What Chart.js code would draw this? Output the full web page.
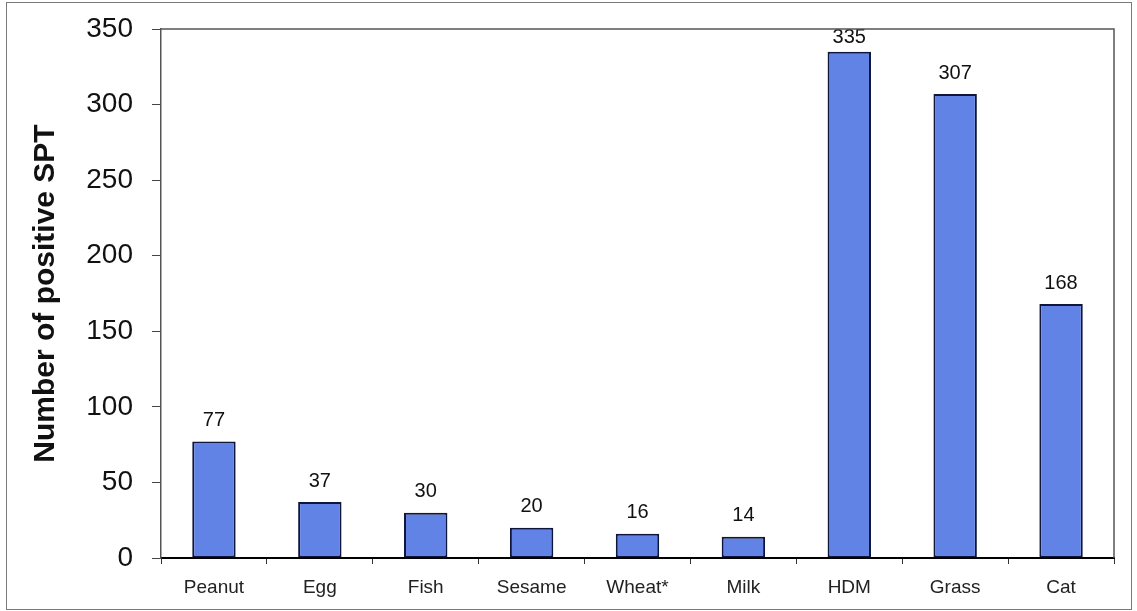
<!DOCTYPE html>
<html>
<head>
<meta charset="utf-8">
<script src="https://cdn.jsdelivr.net/npm/chart.js@4/dist/chart.umd.min.js"></script>
<style>
  body { margin: 0; background: #fff; }
  #moldura { position: absolute; left: 6px; top: 2px; width: 1124px; height: 606px; border: 1.5px solid #7a7a7a; }
  #grafico { position: absolute; left: 0; top: 0; }
</style>
</head>
<body>
<div id="moldura"></div>
<canvas id="grafico" width="1137" height="611"></canvas>
<script>
// Dados do gráfico
var alergenos = ['Peanut', 'Egg', 'Fish', 'Sesame', 'Wheat*', 'Milk', 'HDM', 'Grass', 'Cat'];
var positivos = [77, 37, 30, 20, 16, 14, 335, 307, 168];
var eixoY = { min: 0, max: 350, passo: 50 };

var fonte = "'Liberation Sans', Arial, sans-serif";

// Borda da área do gráfico (topo e direita)
var bordaArea = {
    id: 'bordaArea',
    afterDraw: function (chart) {
        var a = chart.chartArea;
        var c = chart.ctx;
        c.save();
        c.strokeStyle = '#555';
        c.lineWidth = 1.5;
        c.beginPath();
        c.moveTo(a.left, a.top);
        c.lineTo(a.right, a.top);
        c.lineTo(a.right, a.bottom);
        c.stroke();
        c.restore();
    }
};

// Rótulos de valor acima das barras
var rotulosValor = {
    id: 'rotulosValor',
    afterDatasetsDraw: function (chart) {
        var c = chart.ctx;
        var meta = chart.getDatasetMeta(0);
        c.save();
        c.font = '20px ' + fonte;
        c.fillStyle = '#111';
        c.textAlign = 'center';
        c.textBaseline = 'bottom';
        meta.data.forEach(function (barra, i) {
            var y = Math.max(barra.y - 11, chart.chartArea.top + 18);
            c.fillText(positivos[i], barra.x, y);
        });
        c.restore();
    }
};

var ctx = document.getElementById('grafico');

var grafico = new Chart(ctx, {
    type: 'bar',
    data: {
        labels: alergenos,
        datasets: [{
            data: positivos,
            backgroundColor: '#6283e6',
            borderColor: '#10163a',
            borderWidth: 2,
            borderSkipped: false,
            categoryPercentage: 1,
            barPercentage: 0.41
        }]
    },
    options: {
        responsive: false,
        animation: false,
        layout: { padding: { left: 0, right: 23, top: 29, bottom: 0 } },
        plugins: {
            legend: { display: false },
            tooltip: { enabled: false }
        },
        scales: {
            x: {
                grid: {
                    offset: true,
                    drawOnChartArea: false,
                    tickLength: 6,
                    color: '#333',
                    tickWidth: 1
                },
                border: { color: '#000', width: 2 },
                ticks: {
                    padding: 12,
                    color: '#222',
                    font: { family: fonte, size: 19 },
                    maxRotation: 0
                },
                afterFit: function (s) { s.height = 53; }
            },
            y: {
                min: eixoY.min,
                max: eixoY.max,
                grid: {
                    drawOnChartArea: false,
                    tickLength: 9,
                    color: '#444'
                },
                border: { color: '#555', width: 1.5 },
                ticks: {
                    stepSize: eixoY.passo,
                    padding: 19,
                    color: '#111',
                    font: { family: fonte, size: 28 }
                },
                title: {
                    display: true,
                    text: 'Number of positive SPT',
                    color: '#111',
                    font: { family: fonte, size: 30, weight: 'bold' },
                    padding: { top: 28, bottom: 0 }
                },
                afterFit: function (s) {
                    s.width = 161;
                    s.paddingTop = 0;
                    s.paddingBottom = 0;
                }
            }
        }
    },
    plugins: [bordaArea, rotulosValor]
});
</script>
</body>
</html>
